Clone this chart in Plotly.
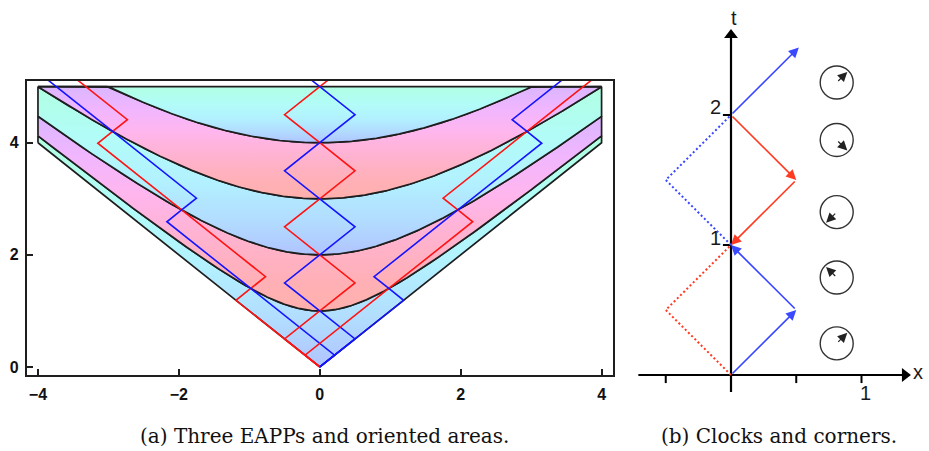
import numpy as np
import plotly.graph_objects as go

# ---------------- Panel (a) data ----------------
tau_levels = [0, 1, 2, 3, 4]          # proper-time hyperbolas t^2 - x^2 = tau^2
t_top = 5.0                            # upper edge of shaded region
x_edge = 4.0                           # side edges of shaded region
band_kind = ["cyan", "pink", "cyan", "pink", "cyan"]
eapp_velocities = [-0.7, 0.0, 0.7]     # the three EAPPs
# corners of the EAPP at rest (blue and red light-clock worldlines)
blue_x = [0, 0.5, 0, -0.5, 0, 0.5, 0, -0.5, 0, 0.5, 0, -0.5, 0, 0.5, 0]
blue_t = [0, 0.5, 1, 1.5, 2, 2.5, 3, 3.5, 4, 4.5, 5, 5.5, 6, 6.5, 7]
red_x = [0, -0.5, 0, 0.5, 0, -0.5, 0, 0.5, 0, -0.5, 0, 0.5, 0, -0.5, 0]
red_t = [0, 0.5, 1, 1.5, 2, 2.5, 3, 3.5, 4, 4.5, 5, 5.5, 6, 6.5, 7]
a_xticks = [-4, -2, 0, 2, 4]
a_yticks = [0, 2, 4]

# ---------------- Panel (b) data ----------------
arrow_tail_x = [0, 0.5, 0, 0.5, 0]
arrow_tail_t = [0, 0.5, 2, 1.5, 2]
arrow_head_x = [0.5, 0, 0.5, 0, 0.52]
arrow_head_t = [0.5, 1, 1.5, 1, 2.52]
arrow_color = ["blue", "blue", "red", "red", "blue"]
blue_dot_x = [0, -0.5, 0]
blue_dot_t = [1, 1.5, 2]
red_dot_x = [0, -0.5, 0]
red_dot_t = [0, 0.5, 1]
clock_x = 0.81
clock_t = [0.243, 0.75, 1.253, 1.808, 2.25]
clock_hand_deg = [45, 135, 225, -45, 45]
b_xticks = [-0.5, 0.5, 1]
b_tticks = [1, 2]

captions = ["(a) Three EAPPs and oriented areas.", "(b) Clocks and corners."]

# ---------------- styling ----------------
CYAN_SCALE = [[0.0, "#b0c4ff"], [0.2, "#b2dcff"], [0.45, "#b2f2ff"],
              [0.7, "#b2fcf8"], [1.0, "#b0ffe2"]]
PINK_SCALE = [[0.0, "#ffb0ac"], [0.15, "#ffb0b6"], [0.35, "#ffb2cc"],
              [0.6, "#ffb6ee"], [0.8, "#f0b6ff"], [1.0, "#dab6ff"]]
RED_A, BLUE_A = "#ff1414", "#1414ff"
RED_B, BLUE_B = "#ff3a22", "#3a48ff"

fig = go.Figure()

# shaded bands between hyperbolas
xs = np.linspace(-x_edge, x_edge, 481)
for i, a in enumerate(tau_levels):
    lower = np.minimum(np.sqrt(xs ** 2 + a ** 2), t_top)
    if i + 1 < len(tau_levels):
        b = tau_levels[i + 1]
        upper = np.minimum(np.sqrt(xs ** 2 + b ** 2), t_top)
    else:
        upper = np.full_like(xs, t_top)
    px = np.concatenate([xs, xs[::-1], xs[:1]])
    py = np.concatenate([lower, upper[::-1], lower[:1]])
    fig.add_trace(go.Scatter(
        x=px, y=py, mode="lines", fill="toself",
        fillgradient=dict(type="vertical",
                          colorscale=CYAN_SCALE if band_kind[i] == "cyan" else PINK_SCALE),
        line=dict(color="#1e1e1e", width=1.7),
        hoverinfo="skip", showlegend=False, xaxis="x", yaxis="y"))

# EAPP worldlines (boosted copies of the rest EAPP)
for v in eapp_velocities:
    g = 1.0 / np.sqrt(1 - v * v)
    for cx, ct, col in ((red_x, red_t, RED_A), (blue_x, blue_t, BLUE_A)):
        cx = np.array(cx, float)
        ct = np.array(ct, float)
        fig.add_trace(go.Scatter(
            x=g * (cx + v * ct), y=g * (ct + v * cx), mode="lines",
            line=dict(color=col, width=1.6),
            hoverinfo="skip", showlegend=False, xaxis="x", yaxis="y"))

# ---------------- Panel (b) ----------------
# axes
fig.add_trace(go.Scatter(x=[-0.71, 1.333], y=[0, 0], mode="lines",
                         line=dict(color="black", width=2.2),
                         hoverinfo="skip", showlegend=False, xaxis="x2", yaxis="y2"))
fig.add_trace(go.Scatter(x=[0, 0], y=[-0.13, 2.615], mode="lines",
                         line=dict(color="black", width=2.2),
                         hoverinfo="skip", showlegend=False, xaxis="x2", yaxis="y2"))
fig.add_trace(go.Scatter(x=[1.333], y=[0], mode="markers",
                         marker=dict(symbol="triangle-right", size=12, color="black"),
                         hoverinfo="skip", showlegend=False, xaxis="x2", yaxis="y2"))
fig.add_trace(go.Scatter(x=[0], y=[2.615], mode="markers",
                         marker=dict(symbol="triangle-up", size=12, color="black"),
                         hoverinfo="skip", showlegend=False, xaxis="x2", yaxis="y2"))
# ticks
tx, ty = [], []
for v in b_xticks:
    tx += [v, v, None]
    ty += [0, -0.062, None]
for v in b_tticks:
    tx += [-0.062, 0, None]
    ty += [v, v, None]
fig.add_trace(go.Scatter(x=tx, y=ty, mode="lines", line=dict(color="black", width=2),
                         hoverinfo="skip", showlegend=False, xaxis="x2", yaxis="y2"))

# dotted corners
fig.add_trace(go.Scatter(x=blue_dot_x, y=blue_dot_t, mode="lines",
                         line=dict(color=BLUE_B, width=2, dash="2px,2.5px"),
                         hoverinfo="skip", showlegend=False, xaxis="x2", yaxis="y2"))
fig.add_trace(go.Scatter(x=red_dot_x, y=red_dot_t, mode="lines",
                         line=dict(color=RED_B, width=2, dash="2px,2.5px"),
                         hoverinfo="skip", showlegend=False, xaxis="x2", yaxis="y2"))

# clocks
fig.add_trace(go.Scatter(x=[clock_x] * len(clock_t), y=clock_t, mode="markers",
                         marker=dict(symbol="circle-open", size=33, color="#333333",
                                     line=dict(width=1.4)),
                         hoverinfo="skip", showlegend=False, xaxis="x2", yaxis="y2"))

annotations = []
for x0, t0, x1, t1, c in zip(arrow_tail_x, arrow_tail_t, arrow_head_x, arrow_head_t, arrow_color):
    annotations.append(dict(
        x=x1, y=t1, ax=x0, ay=t0, xref="x2", yref="y2", axref="x2", ayref="y2",
        text="", showarrow=True, arrowhead=2, arrowsize=1.2, arrowwidth=1.7,
        arrowcolor=BLUE_B if c == "blue" else RED_B, standoff=0))
hand_len = 0.115
for t0, ang in zip(clock_t, clock_hand_deg):
    r = np.deg2rad(ang)
    annotations.append(dict(
        x=clock_x + hand_len * np.cos(r), y=t0 + hand_len * np.sin(r),
        ax=clock_x, ay=t0, xref="x2", yref="y2", axref="x2", ayref="y2",
        text="", showarrow=True, arrowhead=2, arrowsize=1.6, arrowwidth=1.2,
        arrowcolor="#222222", standoff=0))

lab_font = dict(family="Liberation Sans, Arial, sans-serif", size=20, color="#1a1a1a")
for txt, x, y in (("t", 0.02, 2.75), ("x", 1.43, 0.02), ("1", 1.027, -0.135),
                  ("1", -0.115, 1.054), ("2", -0.115, 2.058)):
    annotations.append(dict(x=x, y=y, xref="x2", yref="y2", text=txt, showarrow=False,
                            font=lab_font, xanchor="center", yanchor="middle"))

cap_font = dict(family="DejaVu Serif, Liberation Serif, serif", size=20, color="#111111")
annotations.append(dict(x=324 / 929, y=1 - 436 / 451, xref="paper", yref="paper",
                        text=captions[0], showarrow=False, font=cap_font,
                        xanchor="center", yanchor="middle"))
annotations.append(dict(x=779 / 929, y=1 - 436 / 451, xref="paper", yref="paper",
                        text=captions[1], showarrow=False, font=cap_font,
                        xanchor="center", yanchor="middle"))

tick_font = dict(family="Liberation Sans, Arial, sans-serif", size=16, color="#111111",
                 weight="bold")
fig.update_layout(
    width=929, height=451, margin=dict(l=0, r=0, t=0, b=0),
    paper_bgcolor="white", plot_bgcolor="white", showlegend=False,
    xaxis=dict(domain=[26.7 / 929, 612.5 / 929], range=[-4.16, 4.155],
               tickvals=a_xticks, ticks="inside", ticklen=6, tickwidth=1.5,
               tickcolor="#1e1e1e", showline=True, mirror=True, linecolor="#1e1e1e",
               linewidth=1.6, showgrid=False, zeroline=False, tickfont=tick_font,
               anchor="y", ticklabelstandoff=4),
    yaxis=dict(domain=[1 - 374.5 / 451, 1 - 80.5 / 451], range=[-0.134, 5.11],
               tickvals=a_yticks, ticks="inside", ticklen=6, tickwidth=1.5,
               tickcolor="#1e1e1e", showline=True, mirror=True, linecolor="#1e1e1e",
               linewidth=1.6, showgrid=False, zeroline=False, tickfont=tick_font,
               anchor="x", ticklabelstandoff=3),
    xaxis2=dict(domain=[628 / 929, 1.0], range=[(628 - 731) / 130.5, (929 - 731) / 130.5],
                visible=False, anchor="y2", fixedrange=True),
    yaxis2=dict(domain=[0, 1], range=[-(451 - 375) / 130.0, 375 / 130.0],
                visible=False, anchor="x2", fixedrange=True),
    annotations=annotations,
)

fig.write_html("out.html")
